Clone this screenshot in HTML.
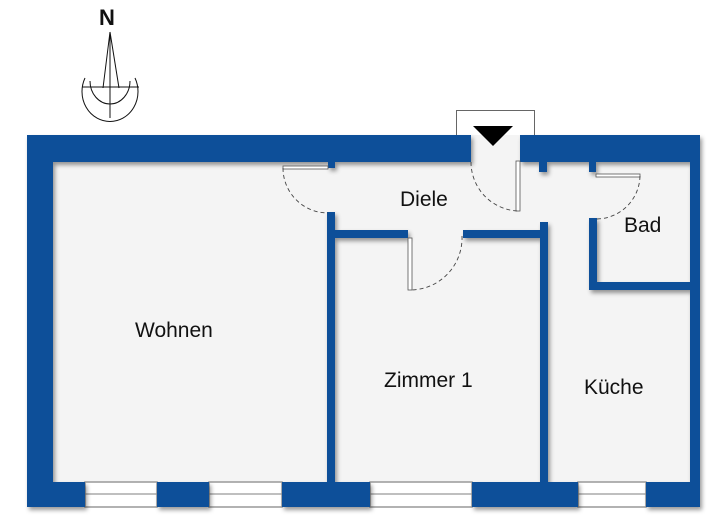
<!DOCTYPE html>
<html><head><meta charset="utf-8"><style>
body{margin:0;background:#fff}
svg{display:block}
text{font-family:"Liberation Sans",sans-serif;font-size:21px;fill:#111}
</style></head><body>
<svg width="720" height="530" viewBox="0 0 720 530" xmlns="http://www.w3.org/2000/svg">
<defs><filter id="sh" x="-5%" y="-5%" width="110%" height="110%"><feDropShadow dx="2" dy="3" stdDeviation="2" flood-color="#000" flood-opacity="0.4"/></filter></defs>
<rect x="40" y="150" width="655" height="345" fill="#f4f4f4"/>
<rect x="456.5" y="110.5" width="78" height="30" fill="#fff" stroke="#666"/>
<rect x="471" y="135" width="49" height="30" fill="#f4f4f4"/>
<g fill="#fff" stroke="#999" stroke-width="1.5">
<rect x="85" y="482" width="72" height="25"/><rect x="209" y="482" width="73" height="25"/>
<rect x="370" y="482" width="102" height="25"/><rect x="578" y="482" width="68" height="25"/>
</g>
<g stroke="#999" stroke-width="1.2"><line x1="85" y1="494" x2="157" y2="494"/><line x1="209" y1="494" x2="282" y2="494"/><line x1="370" y1="494" x2="472" y2="494"/><line x1="578" y1="494" x2="646" y2="494"/></g>
<g fill="#0b5099" filter="url(#sh)">
<rect x="27" y="135" width="444" height="27"/>
<rect x="520" y="135" width="180" height="27"/>
<rect x="27" y="135" width="26" height="372"/>
<rect x="690" y="135" width="10" height="372"/>
<rect x="27" y="482" width="58" height="25"/><rect x="157" y="482" width="52" height="25"/>
<rect x="282" y="482" width="88" height="25"/><rect x="472" y="482" width="106" height="25"/>
<rect x="646" y="482" width="54" height="25"/>
<rect x="327" y="212" width="8" height="272"/>
<rect x="327" y="230" width="81" height="8"/>
<rect x="463" y="230" width="85" height="8"/>
<rect x="540" y="222" width="8" height="262"/>
<rect x="589" y="218" width="8" height="72"/>
<rect x="589" y="282" width="104" height="8"/>
<rect x="328" y="160" width="7" height="8"/>
<rect x="539" y="160" width="8" height="12"/>
<rect x="589" y="160" width="7" height="12"/>
</g>
<g fill="#fff" stroke="#555" stroke-width="0.8">
<rect x="283" y="166" width="45" height="3"/>
<rect x="516" y="161" width="4" height="50"/>
<rect x="408" y="238" width="4" height="52"/>
<rect x="596" y="174" width="44" height="3"/>
</g>
<g fill="none" stroke="#444" stroke-width="0.9" stroke-dasharray="4,3">
<path d="M283 168 A45 45 0 0 0 328 213"/>
<path d="M471 162 A49 49 0 0 0 518 211"/>
<path d="M462 236 A52 52 0 0 1 410 290"/>
<path d="M640 176 A44 44 0 0 1 596 219"/>
</g>
<polygon points="473,126 513,126 493,146" fill="#000"/>
<g stroke="#111" stroke-width="1" fill="none">
<line x1="110" y1="32" x2="110" y2="118"/>
<line x1="110" y1="32" x2="103" y2="88"/><line x1="110" y1="32" x2="119" y2="88"/>
<line x1="82" y1="87" x2="139" y2="87"/>
<path d="M85 78 A28 30 0 1 0 135 78"/>
<path d="M90 81 A20 23 0 1 0 130 81"/>
</g>
<text x="99" y="25" style="font-size:22px;font-weight:bold">N</text>
<text x="400" y="206">Diele</text>
<text x="624" y="232">Bad</text>
<text x="135" y="337">Wohnen</text>
<text x="384" y="387">Zimmer 1</text>
<text x="584" y="394">Küche</text>
</svg>
</body></html>
